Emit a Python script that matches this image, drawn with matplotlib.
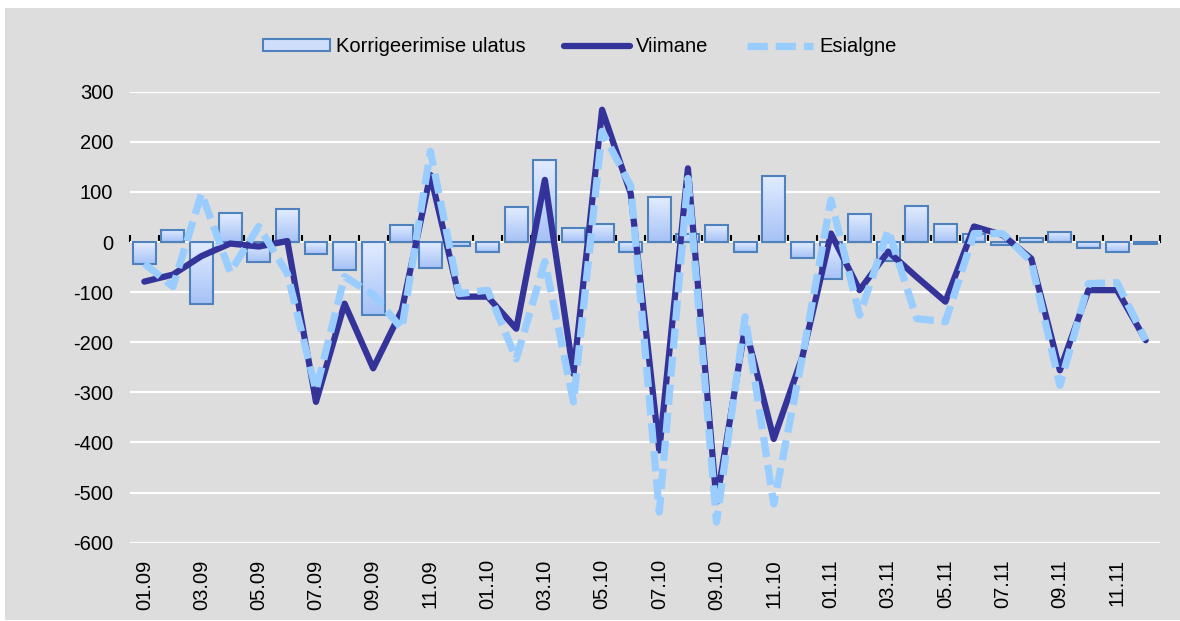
import numpy as np
import matplotlib.pyplot as plt
from matplotlib.patches import Rectangle

# months 01.09 ... 12.11
months = [f"{m:02d}.{y:02d}" for y in (9, 10, 11) for m in range(1, 13)]

# revision size (bars)
korrigeerimine = [-43, 24, -123, 57, -39, 65, -23, -56, -146, 34, -51, -8,
                  -19, 69, 164, 29, 36, -19, 89, 17, 33, -19, 132, -31,
                  -73, 56, -38, 72, 36, 17, -6, 9, 21, -11, -19, -3]
# latest estimate
viimane = [-79, -65, -28, -3, -9, 2, -319, -123, -252, -136, 134, -109,
           -109, -173, 124, -263, 264, 97, -416, 147, -519, -169, -393, -229,
           17, -96, -19, -70, -119, 31, 14, -33, -256, -96, -96, -196]
# initial estimate
esialgne = [-43, -89, 97, -60, 31, -63, -296, -69, -105, -173, 181, -103,
            -96, -233, -39, -319, 221, 112, -539, 127, -559, -149, -523, -230,
            84, -146, 24, -153, -159, 17, 17, -39, -286, -83, -81, -196]

plt.rcParams['font.family'] = ['Liberation Sans', 'DejaVu Sans']
plt.rcParams['font.size'] = 14.5
plt.rcParams['axes.unicode_minus'] = False

bg = "#DDDDDD"
fig = plt.figure(figsize=(11.8, 6.21), dpi=100)
fig.patch.set_facecolor("white")
fig.patches.append(Rectangle((5 / 1180, 1 / 621), 1175 / 1180, 612 / 621,
                             transform=fig.transFigure, facecolor=bg,
                             edgecolor="none", zorder=-10))

ax = fig.add_axes([130 / 1180, 1 - 542.7 / 621, 1030 / 1180, 451 / 621])
ax.set_facecolor(bg)
x = np.arange(len(months))

# bars with a vertical gradient
bars = ax.bar(x, korrigeerimine, width=0.8, facecolor="none",
              edgecolor="#4F81BD", linewidth=1.5, zorder=3,
              label="Korrigeerimise ulatus")
grad = np.linspace(0, 1, 64).reshape(-1, 1)
cmap = plt.matplotlib.colors.LinearSegmentedColormap.from_list(
    "g", ["#E2ECFF", "#A6C2F6"])
for b in bars:
    x0, y0 = b.get_x(), b.get_y()
    w, h = b.get_width(), b.get_height()
    top, bot = max(y0, y0 + h), min(y0, y0 + h)
    im = ax.imshow(grad, cmap=cmap, aspect="auto", zorder=2,
                   extent=[x0, x0 + w, bot, top], origin="upper")
    im.set_clip_path(b)

ax.plot(x, viimane, color="#333399", linewidth=4.5, zorder=5,
        solid_joinstyle="round", solid_capstyle="round", label="Viimane")
ax.plot(x, esialgne, color="#99CCFF", linewidth=5.2, zorder=6,
        dashes=(2.8, 1.1), dash_capstyle="butt", label="Esialgne")

ax.set_xlim(-0.5, len(months) - 0.5)
ax.set_ylim(-600, 300)
ax.set_yticks(range(-600, 301, 100))
ax.yaxis.grid(True, color="white", linewidth=1.6)
ax.set_axisbelow(True)
for s in ax.spines.values():
    s.set_visible(False)
ax.tick_params(axis="y", length=0, pad=12)
ax.set_xticks(x[::2])
ax.set_xticklabels(months[::2], rotation=90)
ax.tick_params(axis="x", length=0, pad=12)

# zero line with category tick marks
sec = ax.secondary_xaxis(2 / 3)
sec.set_xticks(np.arange(-0.5, len(months), 1.0))
sec.set_xticklabels([])
sec.tick_params(axis="x", direction="out", length=5, width=1.5, color="black")
sec.spines["bottom"].set_linewidth(2)
sec.spines["bottom"].set_color("black")
sec.spines["bottom"].set_zorder(4)

handles, labels = ax.get_legend_handles_labels()
order = [2, 0, 1]
leg = fig.legend([handles[i] for i in order], [labels[i] for i in order],
                 loc="center", bbox_to_anchor=(580 / 1180, 1 - 47 / 621),
                 ncol=3, frameon=False, handlelength=3.3, handleheight=0.55,
                 columnspacing=1.9, handletextpad=0.3)
for p in leg.get_patches():
    p.set_facecolor("#CFDEFB")

fig.savefig("out.png", dpi=100, facecolor=fig.get_facecolor())
